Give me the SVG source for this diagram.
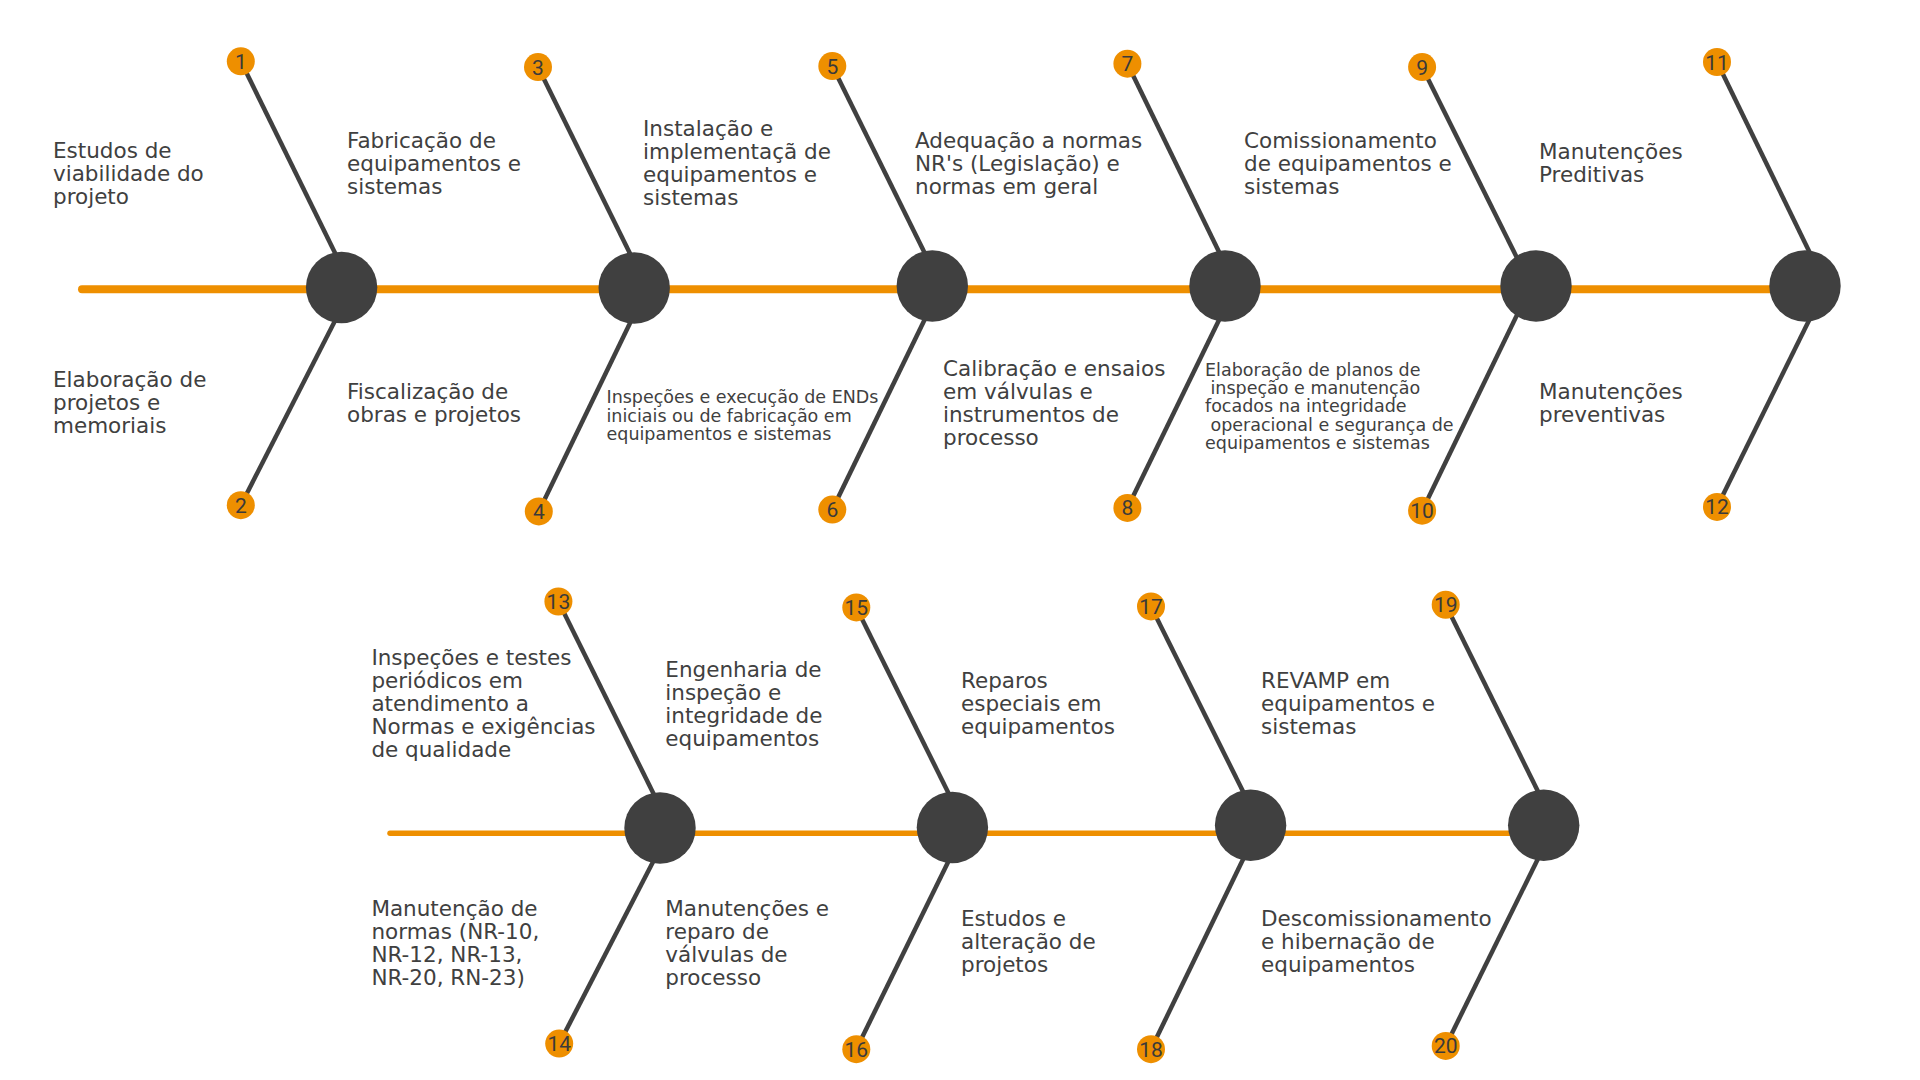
<svg xmlns="http://www.w3.org/2000/svg" width="1920" height="1080" viewBox="0 0 1920 1080">
<style>
.bg{fill:#ffffff}
.main{stroke:#EE8F00;stroke-linecap:round;fill:none}
.branch{stroke:#404040;stroke-width:4.5;stroke-linecap:butt;fill:none}
.joint{fill:#404040}
.badge{fill:#EE8F00}
.num{font-family:Roboto,"DejaVu Sans",sans-serif;font-size:21px;fill:#3a3a3a;text-anchor:middle}
.lbl{font-family:"DejaVu Sans","Noto Sans",sans-serif;font-size:21.5px;fill:#404040}
.sm{font-family:"DejaVu Sans","Noto Sans",sans-serif;font-size:17.5px;fill:#404040}
</style>
<rect class="bg" x="0" y="0" width="1920" height="1080"/>

<g id="connectors">
  <line class="main" x1="82" y1="289.3" x2="1805" y2="289.3" stroke-width="8"/>
  <line class="main" x1="390" y1="833.3" x2="1543" y2="833.3" stroke-width="5.5"/>
  <line class="branch" x1="240.8" y1="61.3" x2="352" y2="287.5"/>
  <line class="branch" x1="240.8" y1="505.2" x2="352" y2="287.5"/>
  <line class="branch" x1="538" y1="67.1" x2="647" y2="288"/>
  <line class="branch" x1="538.8" y1="511.4" x2="647" y2="288"/>
  <line class="branch" x1="832.3" y1="66.1" x2="941" y2="286"/>
  <line class="branch" x1="832.3" y1="509.6" x2="941" y2="286"/>
  <line class="branch" x1="1127.4" y1="63.7" x2="1235.6" y2="286"/>
  <line class="branch" x1="1127.4" y1="507.9" x2="1235.6" y2="286"/>
  <line class="branch" x1="1422.1" y1="67.1" x2="1531" y2="286"/>
  <line class="branch" x1="1422.1" y1="510.7" x2="1531" y2="286"/>
  <line class="branch" x1="1717" y1="62" x2="1826" y2="286"/>
  <line class="branch" x1="1717" y1="506.9" x2="1826" y2="286"/>
  <line class="branch" x1="558.4" y1="601.5" x2="670.5" y2="828"/>
  <line class="branch" x1="559.2" y1="1043.6" x2="670.5" y2="828"/>
  <line class="branch" x1="856.3" y1="607.4" x2="965.3" y2="827"/>
  <line class="branch" x1="856.3" y1="1049.2" x2="965.3" y2="827"/>
  <line class="branch" x1="1151" y1="606.4" x2="1259.7" y2="825"/>
  <line class="branch" x1="1151" y1="1049.2" x2="1259.7" y2="825"/>
  <line class="branch" x1="1445.7" y1="604.8" x2="1554.6" y2="825"/>
  <line class="branch" x1="1445.7" y1="1045.9" x2="1554.6" y2="825"/>
</g>

<g id="joint-a"><circle class="joint" cx="341.6" cy="287.5" r="35.7"/></g>
<g id="joint-b"><circle class="joint" cx="634.2" cy="288" r="35.7"/></g>
<g id="joint-c"><circle class="joint" cx="932.3" cy="286" r="35.7"/></g>
<g id="joint-d"><circle class="joint" cx="1225" cy="286" r="35.7"/></g>
<g id="joint-e"><circle class="joint" cx="1536" cy="286" r="35.7"/></g>
<g id="joint-f"><circle class="joint" cx="1805" cy="286" r="35.7"/></g>
<g id="joint-g"><circle class="joint" cx="660" cy="828" r="35.7"/></g>
<g id="joint-h"><circle class="joint" cx="952.4" cy="827.5" r="35.7"/></g>
<g id="joint-i"><circle class="joint" cx="1250.6" cy="825.3" r="35.7"/></g>
<g id="joint-j"><circle class="joint" cx="1543.7" cy="825.3" r="35.7"/></g>

<g id="node-1">
  <circle class="badge" cx="240.8" cy="61.3" r="14"/>
  <text class="num" x="240.8" y="68.8">1</text>
  <text class="lbl" x="53" y="158"><tspan x="53">Estudos de</tspan><tspan x="53" dy="23">viabilidade do</tspan><tspan x="53" dy="23">projeto</tspan></text>
</g>
<g id="node-2">
  <circle class="badge" cx="240.8" cy="505.2" r="14"/>
  <text class="num" x="240.8" y="512.7">2</text>
  <text class="lbl" x="53" y="387"><tspan x="53">Elaboração de</tspan><tspan x="53" dy="23">projetos e</tspan><tspan x="53" dy="23">memoriais</tspan></text>
</g>
<g id="node-3">
  <circle class="badge" cx="538" cy="67.1" r="14"/>
  <text class="num" x="538" y="74.6">3</text>
  <text class="lbl" x="347" y="147.5"><tspan x="347">Fabricação de</tspan><tspan x="347" dy="23">equipamentos e</tspan><tspan x="347" dy="23">sistemas</tspan></text>
</g>
<g id="node-4">
  <circle class="badge" cx="538.8" cy="511.4" r="14"/>
  <text class="num" x="538.8" y="518.9">4</text>
  <text class="lbl" x="347" y="399"><tspan x="347">Fiscalização de</tspan><tspan x="347" dy="23">obras e projetos</tspan></text>
</g>
<g id="node-5">
  <circle class="badge" cx="832.3" cy="66.1" r="14"/>
  <text class="num" x="832.3" y="73.6">5</text>
  <text class="lbl" x="643" y="136"><tspan x="643">Instalação e</tspan><tspan x="643" dy="23">implementaçã de</tspan><tspan x="643" dy="23">equipamentos e</tspan><tspan x="643" dy="23">sistemas</tspan></text>
</g>
<g id="node-6">
  <circle class="badge" cx="832.3" cy="509.6" r="14"/>
  <text class="num" x="832.3" y="517.1">6</text>
  <text class="sm" x="606.5" y="403.3"><tspan x="606.5">Inspeções e execução de ENDs</tspan><tspan x="606.5" dy="18.3">iniciais ou de fabricação em</tspan><tspan x="606.5" dy="18.3">equipamentos e sistemas</tspan></text>
</g>
<g id="node-7">
  <circle class="badge" cx="1127.4" cy="63.7" r="14"/>
  <text class="num" x="1127.4" y="71.2">7</text>
  <text class="lbl" x="915" y="147.5"><tspan x="915">Adequação a normas</tspan><tspan x="915" dy="23">NR's (Legislação) e</tspan><tspan x="915" dy="23">normas em geral</tspan></text>
</g>
<g id="node-8">
  <circle class="badge" cx="1127.4" cy="507.9" r="14"/>
  <text class="num" x="1127.4" y="515.4">8</text>
  <text class="lbl" x="943" y="376"><tspan x="943">Calibração e ensaios</tspan><tspan x="943" dy="23">em válvulas e</tspan><tspan x="943" dy="23">instrumentos de</tspan><tspan x="943" dy="23">processo</tspan></text>
</g>
<g id="node-9">
  <circle class="badge" cx="1422.1" cy="67.1" r="14"/>
  <text class="num" x="1422.1" y="74.6">9</text>
  <text class="lbl" x="1244" y="147.5"><tspan x="1244">Comissionamento</tspan><tspan x="1244" dy="23">de equipamentos e</tspan><tspan x="1244" dy="23">sistemas</tspan></text>
</g>
<g id="node-10">
  <circle class="badge" cx="1422.1" cy="510.7" r="14"/>
  <text class="num" x="1422.1" y="518.2">10</text>
  <text class="sm" x="1205" y="375.7"><tspan x="1205">Elaboração de planos de</tspan><tspan x="1210.5" dy="18.3">inspeção e manutenção</tspan><tspan x="1205" dy="18.3">focados na integridade</tspan><tspan x="1210.5" dy="18.3">operacional e segurança de</tspan><tspan x="1205" dy="18.3">equipamentos e sistemas</tspan></text>
</g>
<g id="node-11">
  <circle class="badge" cx="1717" cy="62" r="14"/>
  <text class="num" x="1717" y="69.5">11</text>
  <text class="lbl" x="1539" y="159"><tspan x="1539">Manutenções</tspan><tspan x="1539" dy="23">Preditivas</tspan></text>
</g>
<g id="node-12">
  <circle class="badge" cx="1717" cy="506.9" r="14"/>
  <text class="num" x="1717" y="514.4">12</text>
  <text class="lbl" x="1539" y="399"><tspan x="1539">Manutenções</tspan><tspan x="1539" dy="23">preventivas</tspan></text>
</g>
<g id="node-13">
  <circle class="badge" cx="558.4" cy="601.5" r="14"/>
  <text class="num" x="558.4" y="609">13</text>
  <text class="lbl" x="371.4" y="665"><tspan x="371.4">Inspeções e testes</tspan><tspan x="371.4" dy="23">periódicos em</tspan><tspan x="371.4" dy="23">atendimento a</tspan><tspan x="371.4" dy="23">Normas e exigências</tspan><tspan x="371.4" dy="23">de qualidade</tspan></text>
</g>
<g id="node-14">
  <circle class="badge" cx="559.2" cy="1043.6" r="14"/>
  <text class="num" x="559.2" y="1051.1">14</text>
  <text class="lbl" x="371.4" y="916"><tspan x="371.4">Manutenção de</tspan><tspan x="371.4" dy="23">normas (NR-10,</tspan><tspan x="371.4" dy="23">NR-12, NR-13,</tspan><tspan x="371.4" dy="23">NR-20, RN-23)</tspan></text>
</g>
<g id="node-15">
  <circle class="badge" cx="856.3" cy="607.4" r="14"/>
  <text class="num" x="856.3" y="614.9">15</text>
  <text class="lbl" x="665.3" y="677"><tspan x="665.3">Engenharia de</tspan><tspan x="665.3" dy="23">inspeção e</tspan><tspan x="665.3" dy="23">integridade de</tspan><tspan x="665.3" dy="23">equipamentos</tspan></text>
</g>
<g id="node-16">
  <circle class="badge" cx="856.3" cy="1049.2" r="14"/>
  <text class="num" x="856.3" y="1056.7">16</text>
  <text class="lbl" x="665.3" y="916"><tspan x="665.3">Manutenções e</tspan><tspan x="665.3" dy="23">reparo de</tspan><tspan x="665.3" dy="23">válvulas de</tspan><tspan x="665.3" dy="23">processo</tspan></text>
</g>
<g id="node-17">
  <circle class="badge" cx="1151" cy="606.4" r="14"/>
  <text class="num" x="1151" y="613.9">17</text>
  <text class="lbl" x="961" y="687.5"><tspan x="961">Reparos</tspan><tspan x="961" dy="23">especiais em</tspan><tspan x="961" dy="23">equipamentos</tspan></text>
</g>
<g id="node-18">
  <circle class="badge" cx="1151" cy="1049.2" r="14"/>
  <text class="num" x="1151" y="1056.7">18</text>
  <text class="lbl" x="961" y="925.5"><tspan x="961">Estudos e</tspan><tspan x="961" dy="23">alteração de</tspan><tspan x="961" dy="23">projetos</tspan></text>
</g>
<g id="node-19">
  <circle class="badge" cx="1445.7" cy="604.8" r="14"/>
  <text class="num" x="1445.7" y="612.3">19</text>
  <text class="lbl" x="1261" y="687.5"><tspan x="1261">REVAMP em</tspan><tspan x="1261" dy="23">equipamentos e</tspan><tspan x="1261" dy="23">sistemas</tspan></text>
</g>
<g id="node-20">
  <circle class="badge" cx="1445.7" cy="1045.9" r="14"/>
  <text class="num" x="1445.7" y="1053.4">20</text>
  <text class="lbl" x="1261" y="925.5"><tspan x="1261">Descomissionamento</tspan><tspan x="1261" dy="23">e hibernação de</tspan><tspan x="1261" dy="23">equipamentos</tspan></text>
</g>
</svg>
